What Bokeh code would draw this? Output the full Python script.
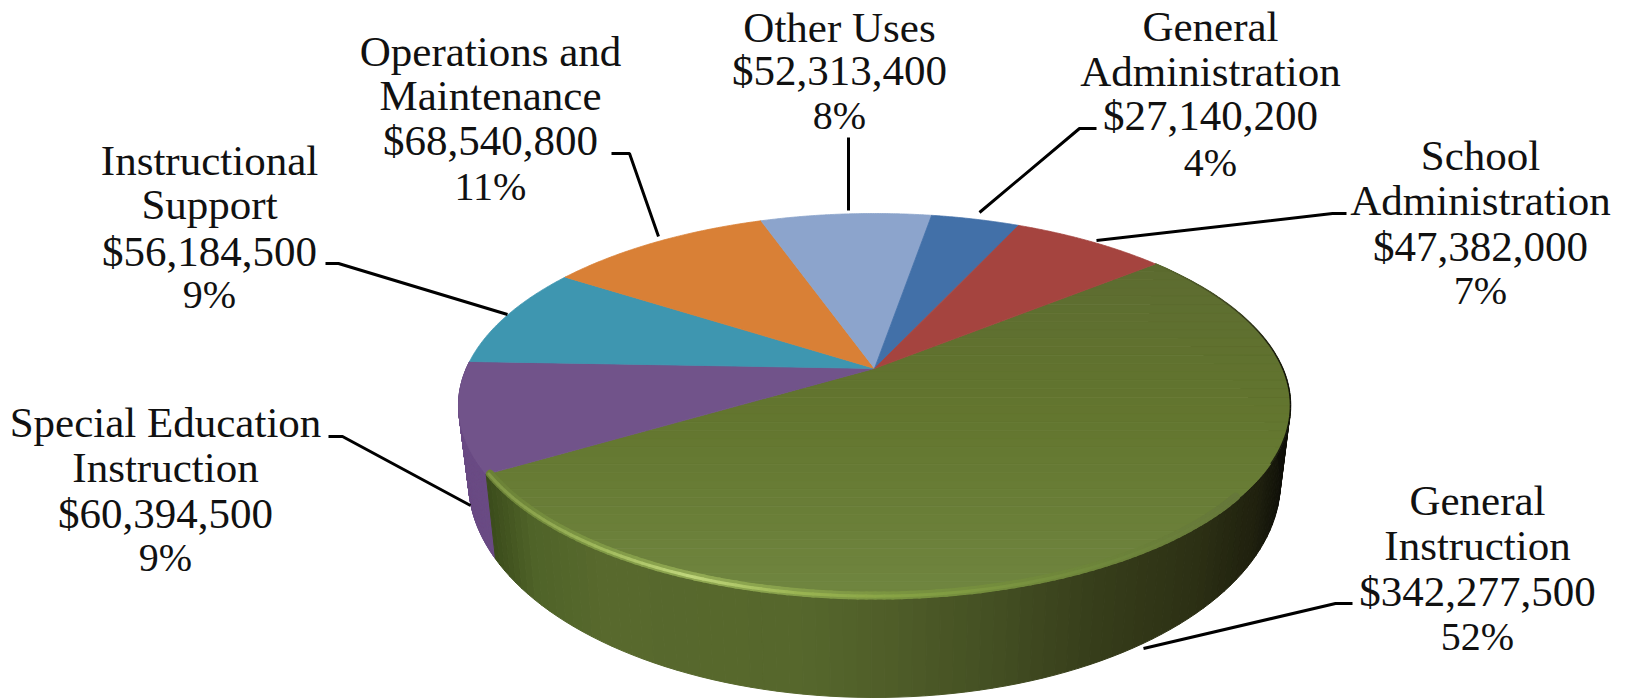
import numpy as np
from bokeh.plotting import figure
from bokeh.models import ColumnDataSource, Range1d
from bokeh.core.properties import value
from bokeh.embed import file_html
from bokeh.resources import INLINE

# ---------- data ----------
categories = ["General Instruction", "Special Education Instruction", "Instructional Support",
              "Operations and Maintenance", "Other Uses", "General Administration", "School Administration"]
amounts = [342277500, 60394500, 56184500, 68540800, 52313400, 27140200, 47382000]
percents = [52, 9, 9, 11, 8, 4, 7]
name_lines = [["General", "Instruction"], ["Special Education", "Instruction"], ["Instructional", "Support"],
              ["Operations and", "Maintenance"], ["Other Uses"], ["General", "Administration"], ["School", "Administration"]]

# ---------- styling / layout ----------
top_colors = ["#667a36", "#71538A", "#3E96B0", "#D98036", "#8CA4CC", "#4270A8", "#A5443F"]
start_angle = 50.6
CX, TOP_CY, TOP_RX, TOP_RY = 874.0, 405.0, 416.0, 192.0
BOT_CY, BOT_RX, BOT_RY = 481.0, 406.0, 216.0
PERSP = 0.193
label_x = [1477, 165, 209, 490, 839, 1210, 1480]
label_y = [[500, 545, 591, 636], [422, 467, 513, 557], [160, 204, 251, 294],
           [51, 95, 140, 186], [27, 70, 115], [26, 71, 115, 162], [155, 200, 246, 290]]
leaders = [[(1143, 648), (1335, 603), (1352, 603)], [(328, 436), (342, 436), (470, 505)],
           [(325, 263), (338, 263), (507, 314)], [(611, 153), (629, 153), (658, 236)],
           [(848, 137), (848, 210)], [(979, 212), (1079, 128), (1096, 128)], [(1096, 240), (1332, 213), (1346, 213)]]
NAME_PX, NUM_PX, PCT_PX = 43, 43, 40


def lerp_color(stops, x):
    xs = [s[0] for s in stops]
    rgb = [[int(s[1][i:i + 2], 16) for s in stops] for i in (1, 3, 5)]
    return "#%02x%02x%02x" % tuple(int(round(np.interp(x, xs, c))) for c in rgb)


def uv(theta):
    t = np.radians(theta)
    x, y = np.sin(t), np.cos(t)
    d = PERSP * y + 1
    return np.sqrt(1 - PERSP ** 2) * x / d, (y + PERSP) / d


def top_pt(theta, k=1.0):
    u, v = uv(theta)
    return CX + k * TOP_RX * u, TOP_CY - k * TOP_RY * v


def bot_pt(theta):
    u, v = uv(theta)
    return CX + BOT_RX * u, BOT_CY - BOT_RY * v


def clip_band(px, py, y0, y1):
    pts = list(zip(px, py))
    for keep, edge in ((lambda p: p[1] >= y0, y0), (lambda p: p[1] <= y1, y1)):
        out = []
        for i, a in enumerate(pts):
            b = pts[(i + 1) % len(pts)]
            if keep(a):
                out.append(a)
            if keep(a) != keep(b):
                s = (edge - a[1]) / (b[1] - a[1])
                out.append((a[0] + s * (b[0] - a[0]), edge))
        pts = out
        if not pts:
            return [], []
    return [p[0] for p in pts], [p[1] for p in pts]


# angles from the values, clockwise from the top of the pie
total = sum(amounts)
sweeps = [a / total * 360 for a in amounts]
starts = [start_angle + sum(sweeps[:i]) for i in range(len(sweeps))]
ends = [s + w for s, w in zip(starts, sweeps)]

p = figure(width=1625, height=699, output_backend="svg", toolbar_location=None,
           x_range=Range1d(0, 1625), y_range=Range1d(699, 0), min_border=0,
           outline_line_color=None, background_fill_color="white", border_fill_color="white")
p.axis.visible = False
p.grid.visible = False

# side walls
side_green = [(488, "#3c4d1c"), (530, "#4f6328"), (600, "#58692d"), (800, "#56672c"), (900, "#4e5c28"),
              (1000, "#434e22"), (1100, "#363d1a"), (1200, "#2c3014"), (1260, "#1f200e"), (1292, "#0e0e08")]
sx, sy, sc = [], [], []
for th0, th1, col in [(ends[1], starts[1], None), (ends[0], starts[0], side_green)]:
    ticks = np.linspace(th0, th1, 120)
    for a, b in zip(ticks[:-1], ticks[1:]):
        ax, ay = top_pt(a)
        bx, by = top_pt(b)
        cx, cy = bot_pt(b)
        dx, dy = bot_pt(a)
        sx.append([ax, bx, cx, dx])
        sy.append([ay, by, cy, dy])
        sc.append("#6A4B84" if col is None else lerp_color(col, (ax + bx) / 2))
p.patches(xs="x", ys="y", fill_color="c", line_color="c", line_width=1,
          source=ColumnDataSource(dict(x=sx, y=sy, c=sc)))

# top faces
fx, fy, fc = [], [], []
for i, (a, b) in enumerate(zip(starts, ends)):
    th = np.linspace(a, b, 100)
    ox, oy = top_pt(th)
    ax0, ay0 = top_pt(0, 0)[0], TOP_CY - TOP_RY * PERSP
    px = [ax0] + list(ox)
    py = [ay0] + list(oy)
    if i == 0:
        levels = np.linspace(min(py) - 1, max(py) + 1, 41)
        for y0, y1 in zip(levels[:-1], levels[1:]):
            bx, by = clip_band(px, py, y0, y1)
            if bx:
                fx.append(bx)
                fy.append(by)
                fc.append(lerp_color([(255, "#5c6b30"), (420, "#63762f"), (600, "#708640")], (y0 + y1) / 2))
    else:
        fx.append(px)
        fy.append(py)
        fc.append(top_colors[i])
p.patches(xs="x", ys="y", fill_color="c", line_color="c", line_width=0.8,
          source=ColumnDataSource(dict(x=fx, y=fy, c=fc)))

# rim highlight along the front of the large slice
rim_soft = [(488, "#6a8036"), (600, "#7f9845"), (700, "#92aa54"), (900, "#7a9440"), (1100, "#6d843a"), (1230, "#66783a")]
rim_hard = [(488, "#7f9644"), (600, "#a0b95c"), (690, "#c0d67c"), (800, "#9ab452"), (900, "#86a244"), (1100, "#70893c"), (1230, "#66783a")]
for stops, width, k in [(rim_soft, 8, 0.990), (rim_hard, 3, 0.993)]:
    ticks = np.linspace(ends[0], 128, 110)
    rx, ry, rc = [], [], []
    for a, b in zip(ticks[:-1], ticks[1:]):
        x0, y0 = top_pt(a, k)
        x1, y1 = top_pt(b, k)
        rx.append([x0, x1])
        ry.append([y0, y1])
        rc.append(lerp_color(stops, (x0 + x1) / 2))
    p.multi_line(xs="x", ys="y", line_color="c", line_width=width, line_cap="round",
                 source=ColumnDataSource(dict(x=rx, y=ry, c=rc)))

# dark back-right edge
ticks = np.linspace(starts[0], 118, 60)
ex, ey, ec = [], [], []
for a, b in zip(ticks[:-1], ticks[1:]):
    x0, y0 = top_pt(a)
    x1, y1 = top_pt(b)
    ex.append([x0, x1])
    ey.append([y0, y1])
    ec.append(lerp_color([(1157, "#5c6b30"), (1240, "#3a4020"), (1290, "#0e0e08")], x1))
p.multi_line(xs="x", ys="y", line_color="c", line_width=1.5,
             source=ColumnDataSource(dict(x=ex, y=ey, c=ec)))

# leader lines
p.multi_line(xs=[[q[0] for q in l] for l in leaders], ys=[[q[1] for q in l] for l in leaders],
             line_color="black", line_width=3)

# labels
tx, ty, tt, ts = [], [], [], []
for names, amt, pct, lx, ly in zip(name_lines, amounts, percents, label_x, label_y):
    lines = [(n, NAME_PX) for n in names] + [(f"${amt:,}", NUM_PX), (f"{pct}%", PCT_PX)]
    for (s, size), y in zip(lines, ly):
        tx.append(lx)
        ty.append(y)
        tt.append(s)
        ts.append(f"{size}px")
p.text(x="x", y="y", text="t", text_font_size="s", text_font=value("Liberation Serif"),
       text_color="#111111", text_align="center", text_baseline="middle",
       source=ColumnDataSource(dict(x=tx, y=ty, t=tt, s=ts)))

open("out.html", "w").write(file_html(p, INLINE))
